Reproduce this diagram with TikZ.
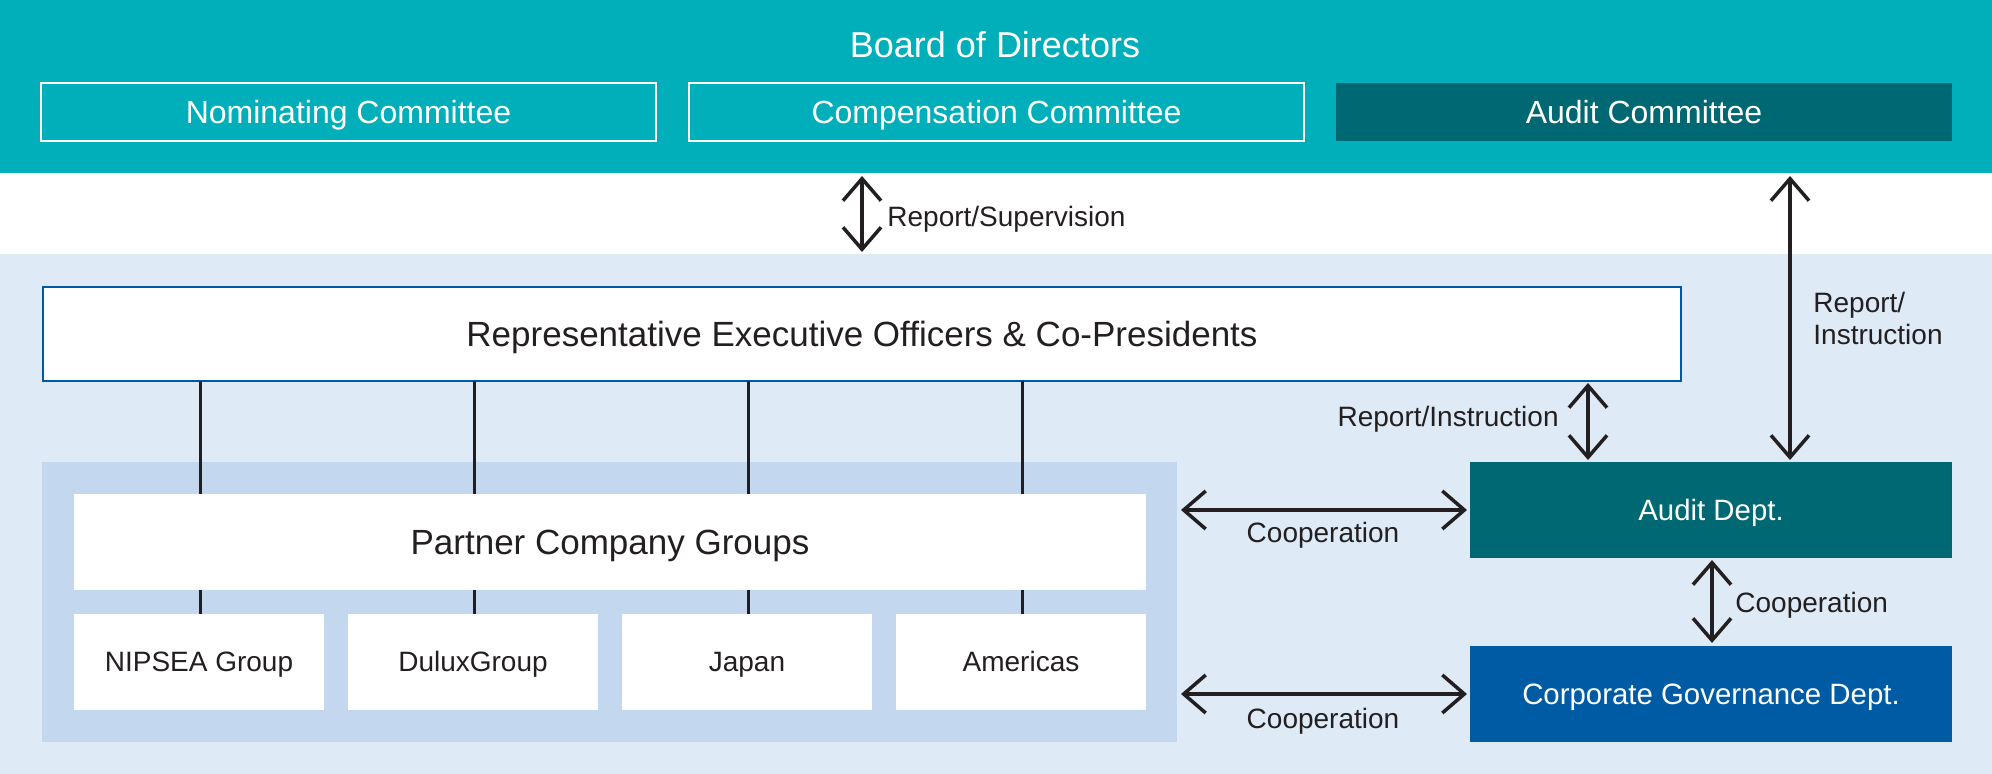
\documentclass[tikz,border=0pt]{standalone}
\usepackage{fontspec}
\setmainfont{Liberation Sans}
\usetikzlibrary{arrows.meta,calc}
\definecolor{tealband}{HTML}{00AFB9}
\definecolor{darkteal}{HTML}{006872}
\definecolor{zonebg}{HTML}{DEEAF6}
\definecolor{areabg}{HTML}{C3D7EE}
\definecolor{execline}{HTML}{0059A4}
\definecolor{corpblue}{HTML}{005BA5}
\definecolor{inkc}{HTML}{231F20}
\tikzset{
  band/.style={rectangle, inner sep=0pt, outer sep=0pt, draw=none},
  comm/.style={rectangle, minimum width=307.5pt, minimum height=29pt, inner sep=0pt, outer sep=0pt,
    text=white, font=\fontsize{16}{19}\selectfont, text height=11.5pt, text depth=0pt},
  bigbox/.style={rectangle, fill=white, inner sep=0pt, outer sep=0pt, text=inkc,
    font=\fontsize{17.5}{21}\selectfont, text height=12.5pt, text depth=0pt},
  subbox/.style={rectangle, fill=white, minimum width=125pt, minimum height=48pt, inner sep=0pt, outer sep=0pt,
    text=inkc, font=\fontsize{14}{17}\selectfont, text height=10pt, text depth=0pt},
  dept/.style={rectangle, minimum width=241pt, minimum height=48pt, inner sep=0pt, outer sep=0pt,
    text=white, font=\fontsize{14.7}{18}\selectfont, text height=10.5pt, text depth=0pt},
  lbl/.style={inner sep=0pt, text=inkc, font=\fontsize{14}{17}\selectfont},
  tie/.style={draw=inkc, line width=1.5pt},
  dbl/.style={draw=inkc, line width=1.75pt,
    {Straight Barb[length=11pt,width=19pt]}-{Straight Barb[length=11pt,width=19pt]}}
}
\begin{document}
\begin{tikzpicture}[x=0.5pt,y=-0.5pt]
\useasboundingbox (0,0) rectangle (1992,774);
\fill[white] (0,0) rectangle (1992,774);
% bands
\node[band, fill=tealband, minimum width=996pt, minimum height=86.5pt] (board) at (996,86.5) {};
\node[band, fill=zonebg, minimum width=996pt, minimum height=260pt] (zone) at (996,514) {};
\node[anchor=base, inner sep=0pt, text=white, font=\fontsize{18}{21}\selectfont] (boardtitle) at (995,58) {Board of Directors};
% committees
\node[comm, draw=white, line width=0.75pt] (nom) at (348.5,112) {Nominating Committee};
\node[comm, draw=white, line width=0.75pt] (comp) at (996.5,112) {Compensation Committee};
\node[comm, fill=darkteal, minimum width=308pt] (auditc) at (1644,112) {Audit Committee};
% executive
\node[bigbox, draw=execline, line width=1pt, minimum width=819pt, minimum height=47pt] (exec) at (862,334) {Representative Executive Officers \& Co-Presidents};
% partner area
\node[band, fill=areabg, minimum width=567.5pt, minimum height=140pt] (area) at (609.5,602) {};
\node[subbox] (nip) at (199,662) {NIPSEA Group};
\node[subbox] (dulux) at (473,662) {DuluxGroup};
\node[subbox] (japan) at (747,662) {Japan};
\node[subbox] (amer) at (1021,662) {Americas};
% ties from executive through partner box to groups
\foreach \g in {nip,dulux,japan,amer}{
  \draw[tie] ($(\g.north |- exec.south)+(1,0)$) -- ($(\g.north)+(1,0)$);
}
\node[bigbox, minimum width=536pt, minimum height=48pt] (pcg) at (610,542) {Partner Company Groups};
% departments
\node[dept, fill=darkteal] (audit) at (1711,510) {Audit Dept.};
\node[dept, fill=corpblue] (corp) at (1711,694) {Corporate Governance Dept.};
% arrows
\draw[dbl] ($(exec.north |- board.south)+(0,3)$) -- ($(exec.north |- zone.north)+(0,-2)$);
\node[lbl, anchor=base west] (rs) at (887,227) {Report/Supervision};
\coordinate (ra) at ($(audit.north)+(79,0)$);
\draw[dbl] ($(ra |- board.south)+(0,3)$) -- ($(ra)+(0,-2)$);
\node[lbl, anchor=base west] (riA) at (1813,313) {Report/};
\node[lbl, anchor=base west] (riB) at (1813,345) {Instruction};
\coordinate (pa) at ($(audit.north)+(-123,0)$);
\draw[dbl] ($(pa |- exec.south)+(0,2)$) -- ($(pa)+(0,-2)$);
\node[lbl, anchor=base east] (ri2) at (1559,427) {Report/Instruction};
\draw[dbl] ($(area.east |- audit.west)+(4,0)$) -- ($(audit.west)+(-3,0)$);
\node[lbl, anchor=base] (co1) at (1323,543) {Cooperation};
\draw[dbl] ($(area.east |- corp.west)+(4,0)$) -- ($(corp.west)+(-3,0)$);
\node[lbl, anchor=base] (co2) at (1323,728) {Cooperation};
\draw[dbl] ($(audit.south)+(1,2)$) -- ($(corp.north)+(1,-3)$);
\node[lbl, anchor=base west] (co3) at (1735,613) {Cooperation};
\end{tikzpicture}
\end{document}
